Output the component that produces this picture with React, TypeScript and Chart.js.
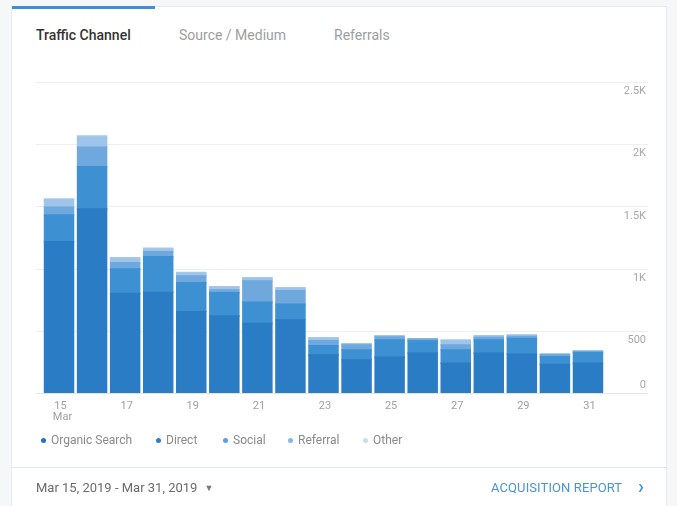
import React, { useEffect, useRef } from "react";
import { Chart, registerables } from "chart.js";

Chart.register(...registerables);

const days = ["15", "16", "17", "18", "19", "20", "21", "22", "23", "24", "25", "26", "27", "28", "29", "30", "31"];
const organicSearch = [1216, 1479, 801, 809, 654, 619, 559, 587, 305, 265, 287, 319, 239, 319, 311, 230, 239];
const direct = [215, 340, 196, 287, 233, 187, 170, 127, 75, 81, 139, 99, 107, 107, 128, 62, 85];
const social = [62, 156, 50, 40, 53, 22, 171, 109, 40, 40, 25, 14, 40, 20, 15, 15, 10];
const referral = [58, 80, 34, 20, 24, 20, 20, 18, 18, 6, 6, 3, 32, 10, 8, 4, 2];
const other = [8, 11, 7, 7, 6, 7, 7, 6, 7, 4, 4, 2, 8, 5, 4, 3, 2];
const yTickValues = [0, 500, 1000, 1500, 2000, 2500];
const yTickLabels = ["0", "500", "1K", "1.5K", "2K", "2.5K"];
const seriesNames = ["Organic Search", "Direct", "Social", "Referral", "Other"];
const seriesColors = ["#2a7dc5", "#3d90d2", "#6ea8dd", "#9fc4e9", "#a9caeb"];
const legendDotColors = ["#1f72c2", "#2c80cc", "#5c9fdc", "#86b8e6", "#c8ddf2"];
const legendLeft = [41, 156, 223, 288, 363];

const axesPlugin = {
  id: "gaAxes",
  beforeDatasetsDraw(chart: any) {
    const { ctx } = chart;
    const y = chart.scales.y;
    ctx.save();
    ctx.lineWidth = 1;
    yTickValues.forEach((v, i) => {
      const py = Math.round(y.getPixelForValue(v)) + 0.5;
      ctx.strokeStyle = i === 0 ? "#e3e3e3" : "#eeeeee";
      ctx.beginPath();
      ctx.moveTo(36, py);
      ctx.lineTo(648, py);
      ctx.stroke();
    });
    ctx.restore();
  },
  afterDraw(chart: any) {
    const { ctx } = chart;
    const x = chart.scales.x;
    const y = chart.scales.y;
    ctx.save();
    ctx.font = "11px Roboto";
    ctx.fillStyle = "#a8a8a8";
    ctx.textAlign = "right";
    ctx.textBaseline = "middle";
    yTickValues.forEach((v, i) => {
      const py = y.getPixelForValue(v);
      ctx.fillText(yTickLabels[i], 646, v === 0 ? py - 8 : py + 9.5);
    });
    ctx.textAlign = "center";
    ctx.fillStyle = "#a0a0a0";
    days.forEach((d, i) => {
      if (i % 2 !== 0) return;
      const px = x.getPixelForValue(i) + 1.5;
      ctx.fillText(d, px, 406);
      if (i === 0) ctx.fillText("Mar", px + 2, 417.5);
    });
    ctx.restore();
  },
};

export default function App() {
  const ref = useRef<HTMLCanvasElement | null>(null);

  useEffect(() => {
    document.body.style.margin = "0";
    document.body.style.background = "#f6f7f9";
    const canvas = ref.current;
    if (!canvas) return;
    const values = [organicSearch, direct, social, referral, other];
    const chart = new Chart(canvas, {
      type: "bar",
      data: {
        labels: days,
        datasets: values.map((data, i) => ({
          label: seriesNames[i],
          data,
          backgroundColor: seriesColors[i],
          borderWidth: 0,
          inflateAmount: 0.7,
          barPercentage: 0.88,
          categoryPercentage: 1,
          stack: "s",
        })),
      },
      options: {
        animation: false,
        responsive: false,
        maintainAspectRatio: false,
        layout: { padding: { left: 42.5, right: 72.5, top: 82, bottom: 113 } },
        scales: {
          x: { stacked: true, display: false, offset: true },
          y: { stacked: true, display: false, min: 0, max: 2500 },
        },
        plugins: {
          legend: { display: false },
          tooltip: { enabled: false },
        },
      },
      plugins: [axesPlugin],
    });
    return () => chart.destroy();
  }, []);

  const font = "Roboto, 'Noto Sans', sans-serif";

  return (
    <div style={{ position: "relative", width: 677, height: 506, overflow: "hidden", fontFamily: font }}>
      <div
        style={{
          position: "absolute",
          left: 11,
          top: 6,
          width: 656,
          height: 520,
          background: "#ffffff",
          border: "1px solid #e7e9ec",
          boxSizing: "border-box",
        }}
      />
      <div style={{ position: "absolute", left: 12, top: 6, width: 143, height: 3, background: "#3b8fdc" }} />
      <div style={{ position: "absolute", left: 36, top: 27, fontSize: 14, fontWeight: 500, color: "#333" }}>Traffic Channel</div>
      <div style={{ position: "absolute", left: 179, top: 27, fontSize: 14, color: "#9e9e9e" }}>Source / Medium</div>
      <div style={{ position: "absolute", left: 334, top: 27, fontSize: 14, color: "#9e9e9e" }}>Referrals</div>
      <canvas ref={ref} width={677} height={506} style={{ position: "absolute", left: 0, top: 0, width: 677, height: 506 }} />
      {seriesNames.map((name, i) => (
        <div
          key={name}
          style={{
            position: "absolute",
            left: legendLeft[i],
            top: 432,
            height: 16,
            display: "flex",
            alignItems: "center",
            fontSize: 12,
            color: "#8a8a8a",
            whiteSpace: "nowrap",
          }}
        >
          <span
            style={{
              display: "inline-block",
              width: 5,
              height: 5,
              borderRadius: "50%",
              background: legendDotColors[i],
              marginRight: 5,
            }}
          />
          {name}
        </div>
      ))}
      <div style={{ position: "absolute", left: 12, top: 467, width: 654, height: 1, background: "#e2e8ef" }} />
      <div style={{ position: "absolute", left: 36, top: 480, fontSize: 13, color: "#6a6a6a", whiteSpace: "nowrap" }}>
        Mar 15, 2019 - Mar 31, 2019
        <span style={{ fontSize: 9, marginLeft: 7, color: "#777", position: "relative", top: -1 }}>▼</span>
      </div>
      <div style={{ position: "absolute", left: 491, top: 480, fontSize: 13, color: "#4b93da", whiteSpace: "nowrap", letterSpacing: 0.1 }}>
        ACQUISITION REPORT
      </div>
      <div style={{ position: "absolute", left: 638, top: 474, fontSize: 20, color: "#4b93da", fontWeight: 500 }}>›</div>
    </div>
  );
}
